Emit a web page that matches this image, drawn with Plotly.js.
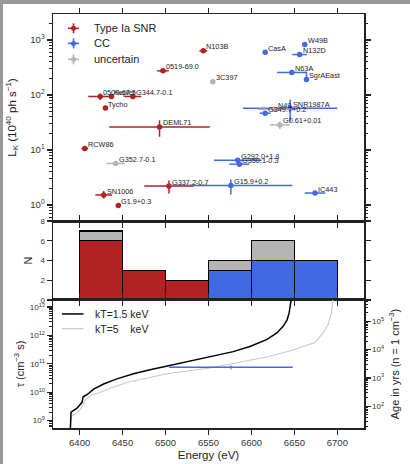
<!DOCTYPE html>
<html><head><meta charset="utf-8">
<script src="https://cdn.plot.ly/plotly-3.0.1.min.js"></script>
<style>
html,body{margin:0;padding:0;background:#989898;width:410px;height:464px;overflow:hidden}
#chart{position:absolute;left:3px;top:4px;width:407px;height:460px;background:#fff}
</style></head><body><div id="chart"></div>
<script>
// ---------- data ----------
const energyTicks = [6400, 6450, 6500, 6550, 6600, 6650, 6700];

// Type Ia SNRs
const iaNames = ['N103B', '0519-69.0', '0509-67.5', 'Kepler', 'G344.7-0.1', 'Tycho', 'DEML71', 'RCW86', 'SN1006', 'G1.9+0.3', 'G337.2-0.7'];
const iaEnergy = [6544, 6497, 6424, 6437, 6462, 6430, 6493, 6406, 6428, 6445, 6504];
const iaEnergyErr = [4.6, 6.8, 14, 2, 9.9, 1, 58.5, 4, 9.7, 1, 28.8];
const iaLum = [635, 275, 94, 94, 94, 58, 26.3, 10.6, 1.52, 0.975, 2.21];
const iaLumErrUp = [50, 20, 13, 5, 10, 2, 8.4, 0.5, 0.27, 0.03, 0.59];
const iaLumErrDown = [50, 20, 13, 5, 10, 2, 8.9, 0.5, 0.21, 0.03, 0.60];

// Core-collapse SNRs
const ccNames = ['CasA', 'W49B', 'N132D', 'N63A', 'SgrAEast', 'SNR1987A', 'G349.7+0.2', 'G292.0+1.8', 'G350.1-0.3', 'G15.9+0.2', 'IC443'];
const ccEnergy = [6616, 6662, 6656, 6647, 6664, 6645, 6616, 6584, 6586, 6576, 6674];
const ccEnergyErr = [1, 1, 8.5, 17.2, 2, 55, 6.4, 27.7, 11.6, 71.6, 12];
const ccLum = [601, 826, 544, 257, 192, 57.2, 46.8, 6.53, 5.53, 2.27, 1.65];
const ccLumErrUp = [5, 5, 20, 15, 72, 25, 2, 0.5, 0.4, 0.65, 0.1];
const ccLumErrDown = [5, 5, 20, 15, 5, 24, 2, 0.5, 0.4, 0.71, 0.1];

// Uncertain type
const unNames = ['3C397', 'G352.7-0.1', 'N49', 'G0.61+0.01'];
const unEnergy = [6555, 6442, 6627, 6633];
const unEnergyErr = [1, 10.6, 20, 11.6];
const unLum = [174, 5.69, 55.3, 28.6];
const unLumErr = [3, 0.3, 3, 4.5];

// Histogram (counts per 50 eV bin)
const binCenters = [6425, 6475, 6525, 6575, 6625, 6675];
const nIa = [6, 3, 2, 0, 0, 0];
const nCC = [0, 0, 0, 3, 4, 4];
const nUnc = [1, 0, 0, 1, 2, 0];

// Ionization timescale vs. Fe K centroid
const kt15Energy = [6389.2, 6390, 6397, 6402.8, 6404, 6409.3, 6416.3, 6427.9, 6443.4, 6462.7, 6482, 6501.5, 6524.7, 6551.7, 6559.5, 6578.8, 6598.2, 6617.6, 6629.2, 6636.9, 6641.5, 6643.8, 6646.5];
const kt15Tau = [5.0e8, 2.0e9, 2.75e9, 4.4e9, 6.8e9, 8.5e9, 1.29e10, 1.95e10, 2.95e10, 4.47e10, 6.17e10, 8.3e10, 1.17e11, 1.74e11, 1.9e11, 2.7e11, 4.07e11, 7.1e11, 1.2e12, 2.1e12, 3.55e12, 6.2e12, 2.0e13];
const kt5Energy = [6389.2, 6390.4, 6398.9, 6404, 6406.6, 6414.4, 6424, 6435.6, 6455, 6482, 6501.5, 6551.7, 6578.8, 6617.6, 6648.5, 6667.9, 6673.7, 6683.3, 6689.1, 6693, 6695];
const kt5Tau = [5.0e8, 1.38e9, 2.1e9, 3.55e9, 5.4e9, 8.1e9, 9.8e9, 1.38e10, 2.19e10, 3.39e10, 4.47e10, 7.1e10, 1.05e11, 1.74e11, 3.1e11, 4.7e11, 5.6e11, 1.2e12, 2.4e12, 6.2e12, 2.0e13];

// G15.9+0.2 age marker
const g159Energy = [6576];
const g159EnergyErr = [72];
const g159Age = [2400];
const g159AgeErr = [350];

// ---------- styling ----------
const RED = '#b22222', BLUE = '#4169e1', GREY = '#b4b4b4', INK = '#222';
const FONT = 'Liberation Sans, Arial, Helvetica, sans-serif';

function pts(name, xs, xe, ys, yup, ydn, color, xa, ya) {
  return {
    type: 'scatter', mode: 'markers', name: name, x: xs, y: ys, xaxis: xa, yaxis: ya,
    marker: {color: color, size: 5.5},
    error_x: {type: 'data', array: xe, color: color, thickness: 1.5, width: 0},
    error_y: {type: 'data', symmetric: false, array: yup, arrayminus: ydn, color: color, thickness: 1.5, width: 0},
    cliponaxis: true, hoverinfo: 'skip'
  };
}

const traces = [
  pts('Type Ia SNR', iaEnergy, iaEnergyErr, iaLum, iaLumErrUp, iaLumErrDown, RED, 'x', 'y'),
  pts('CC', ccEnergy, ccEnergyErr, ccLum, ccLumErrUp, ccLumErrDown, BLUE, 'x', 'y'),
  pts('uncertain', unEnergy, unEnergyErr, unLum, unLumErr, unLumErr, GREY, 'x', 'y'),
  {type: 'bar', x: binCenters, y: nIa, width: 50, xaxis: 'x2', yaxis: 'y2', marker: {color: RED, line: {color: '#000', width: 1.3}}, name: 'Type Ia SNR'},
  {type: 'bar', x: binCenters, y: nCC, width: 50, xaxis: 'x2', yaxis: 'y2', marker: {color: BLUE, line: {color: '#000', width: 1.3}}, name: 'CC'},
  {type: 'bar', x: binCenters, y: nUnc, width: 50, xaxis: 'x2', yaxis: 'y2', marker: {color: GREY, line: {color: '#000', width: 1.3}}, name: 'uncertain'},
  {type: 'scatter', mode: 'lines', x: kt5Energy, y: kt5Tau, xaxis: 'x3', yaxis: 'y3', line: {color: '#c8c8c8', width: 1.1}, name: 'kT=5 keV'},
  {type: 'scatter', mode: 'lines', x: kt15Energy, y: kt15Tau, xaxis: 'x3', yaxis: 'y3', line: {color: '#000', width: 1.5}, name: 'kT=1.5 keV'},
  {type: 'scatter', mode: 'markers', x: g159Energy, y: g159Age, xaxis: 'x3', yaxis: 'y4', marker: {size: 1, color: BLUE},
   error_x: {type: 'data', array: g159EnergyErr, color: BLUE, thickness: 1.5, width: 0},
   error_y: {type: 'data', array: g159AgeErr, color: BLUE, thickness: 1.2, width: 0}, name: 'G15.9+0.2'}
];

// ---------- axes ----------
function sup(b, p) { return b + '<sup>' + p + '</sup>'; }
const axLine = {showline: true, linecolor: INK, linewidth: 1.5, ticks: 'outside', ticklen: 5, tickwidth: 1.2, tickcolor: INK, showgrid: false, zeroline: false};
const minorLogTicks = {dtick: 'D1', ticks: 'outside', ticklen: 2.5, tickwidth: 1, tickcolor: INK, showgrid: false};
const xc = Object.assign({}, axLine, {range: [6369, 6731], tickmode: 'array', tickvals: energyTicks, mirror: 'allticks', tickfont: {size: 9.5, color: '#333'}});

const topRange = [-0.291, 3.473];
const tauRange = [8.74, 13.25];
const ageRange = [1.24, 5.75];

const layout = {
  width: 407, height: 460,
  margin: {l: 50, r: 46, t: 10, b: 36},
  paper_bgcolor: '#fff', plot_bgcolor: '#fff',
  font: {family: FONT, color: INK, size: 10},
  showlegend: false,
  barmode: 'stack', bargap: 0,
  xaxis: Object.assign({}, xc, {anchor: 'y', showticklabels: false}),
  xaxis2: Object.assign({}, xc, {anchor: 'y2', matches: 'x', showticklabels: false}),
  xaxis3: Object.assign({}, xc, {anchor: 'y3', matches: 'x', showticklabels: true,
    title: {text: 'Energy (eV)', font: {size: 11.5, color: INK}, standoff: 4}}),
  yaxis: Object.assign({}, axLine, {domain: [0.5, 1], anchor: 'x', type: 'log', range: topRange, mirror: 'allticks',
    tickmode: 'array', tickvals: [1, 10, 100, 1000], ticktext: [sup('10', 0), sup('10', 1), sup('10', 2), sup('10', 3)],
    tickfont: {size: 9.5, color: '#333'}, minor: minorLogTicks,
    title: {text: 'L<sub>K</sub> (10<sup>40</sup> ph s<sup>\u22121</sup>)', font: {size: 11.5, color: INK}, standoff: 11}}),
  yaxis2: Object.assign({}, axLine, {domain: [0.3092, 0.5], anchor: 'x2', range: [0, 8], mirror: 'allticks',
    tickmode: 'array', tickvals: [0, 2, 4, 6, 8], tickfont: {size: 8, color: '#333'},
    title: {text: 'N', font: {size: 11, color: INK}, standoff: 5}}),
  yaxis3: Object.assign({}, axLine, {domain: [0, 0.3092], anchor: 'x3', type: 'log', range: tauRange, mirror: false,
    tickmode: 'array', tickvals: [1e9, 1e10, 1e11, 1e12, 1e13], ticktext: [sup('10', 9), sup('10', 10), sup('10', 11), sup('10', 12), sup('10', 13)],
    tickfont: {size: 8, color: '#333'}, minor: minorLogTicks,
    title: {text: '\u03c4 (cm<sup>\u22123</sup> s)', font: {size: 11, color: INK}, standoff: 3}}),
  yaxis4: Object.assign({}, axLine, {overlaying: 'y3', side: 'right', anchor: 'x3', type: 'log', range: ageRange,
    tickmode: 'array', tickvals: [1e2, 1e3, 1e4, 1e5], ticktext: [sup('10', 2), sup('10', 3), sup('10', 4), sup('10', 5)],
    tickfont: {size: 8, color: '#333'}, minor: minorLogTicks,
    title: {text: 'Age in yrs (n = 1 cm<sup>\u22123</sup>)', font: {size: 11, color: INK}, standoff: 8}}),
  annotations: [], shapes: []
};

// object labels
function labels(names, xs, ys) {
  names.forEach((n, i) => layout.annotations.push({
    xref: 'x', yref: 'y', x: xs[i], y: Math.log10(ys[i]), text: n, showarrow: false,
    xanchor: 'left', yanchor: 'middle', xshift: 1, yshift: 4, font: {size: 7.3, color: INK}
  }));
}
labels(iaNames, iaEnergy, iaLum);
labels(ccNames, ccEnergy, ccLum);
labels(unNames, unEnergy, unLum);

// legend of top panel (error-bar crosses)
const legTop = [['Type Ia SNR', RED, 0.931], ['CC', BLUE, 0.858], ['uncertain', GREY, 0.781]];
legTop.forEach(([txt, col, yd]) => {
  const base = {xref: 'x domain', yref: 'y domain', xsizemode: 'pixel', ysizemode: 'pixel', xanchor: 0.066, yanchor: yd};
  layout.shapes.push(Object.assign({type: 'line', x0: -5.5, x1: 5.5, y0: 0, y1: 0, line: {color: col, width: 1.6}}, base));
  layout.shapes.push(Object.assign({type: 'line', x0: 0, x1: 0, y0: -5, y1: 5, line: {color: col, width: 1.6}}, base));
  layout.shapes.push(Object.assign({type: 'circle', x0: -2.5, x1: 2.5, y0: -2.5, y1: 2.5, fillcolor: col, line: {width: 0}}, base));
  layout.annotations.push({xref: 'x domain', yref: 'y domain', x: 0.127, y: yd, text: txt, showarrow: false,
    xanchor: 'left', yanchor: 'middle', font: {size: 11, color: INK}});
});

// legend of bottom panel
const legBot = [['kT=1.5 keV', '#000', 1.5, 0.891], ['kT=5\u00a0\u00a0\u00a0\u00a0keV', '#c8c8c8', 1.2, 0.776]];
legBot.forEach(([txt, col, w, yd]) => {
  layout.shapes.push({type: 'line', xref: 'x3 domain', yref: 'y3 domain', x0: 0.029, x1: 0.098, y0: yd, y1: yd, line: {color: col, width: w}});
  layout.annotations.push({xref: 'x3 domain', yref: 'y3 domain', x: 0.1285, y: yd, text: txt, showarrow: false,
    xanchor: 'left', yanchor: 'middle', font: {size: 10.5, color: INK}});
});

Plotly.newPlot('chart', traces, layout, {displayModeBar: false, staticPlot: true});
</script></body></html>
